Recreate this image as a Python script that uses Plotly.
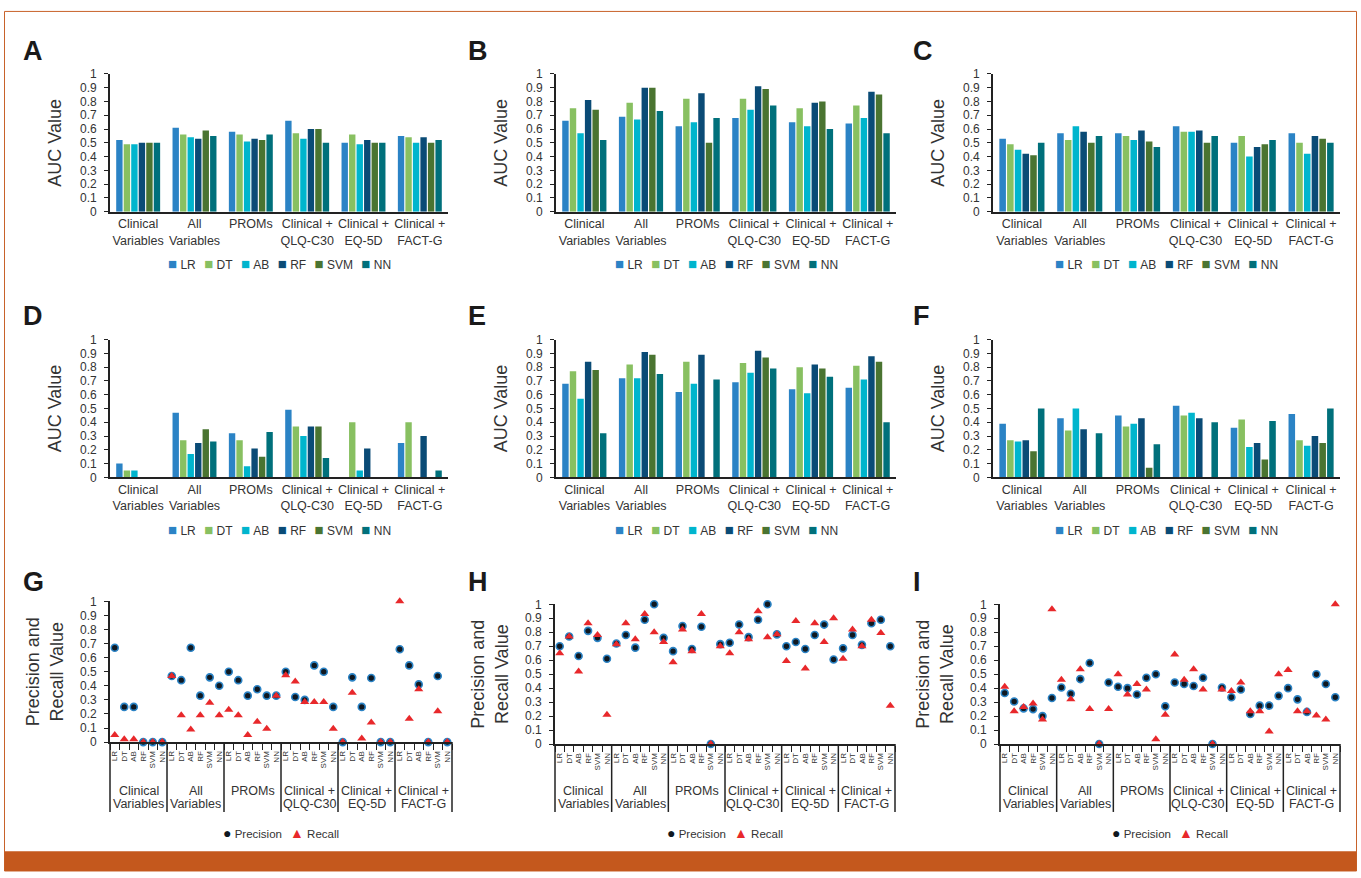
import numpy as np
import plotly.graph_objects as go

W, H = 1361, 878


def px(v):
    return v / W


def py(v):
    return 1 - v / H


FONT = "Liberation Sans, Arial, sans-serif"
TXT = "#333333"
AX = "#222222"

groups = ["Clinical<br>Variables", "All<br>Variables", "PROMs",
          "Clinical +<br>QLQ-C30", "Clinical +<br>EQ-5D", "Clinical +<br>FACT-G"]
models = ["LR", "DT", "AB", "RF", "SVM", "NN"]
model_colors = ["#2b83c5", "#88c061", "#00b5cd", "#0a4b76", "#4a7431", "#00707b"]
y_ticks = [0, 0.1, 0.2, 0.3, 0.4, 0.5, 0.6, 0.7, 0.8, 0.9, 1]
y_ticktext = ["0", "0.1", "0.2", "0.3", "0.4", "0.5", "0.6", "0.7", "0.8", "0.9", "1"]

# AUC values: rows = models (LR, DT, AB, RF, SVM, NN), columns = groups
auc_A = [[0.52, 0.61, 0.58, 0.66, 0.50, 0.55],
         [0.49, 0.56, 0.56, 0.57, 0.56, 0.54],
         [0.49, 0.54, 0.51, 0.53, 0.49, 0.50],
         [0.50, 0.53, 0.53, 0.60, 0.52, 0.54],
         [0.50, 0.59, 0.52, 0.60, 0.50, 0.50],
         [0.50, 0.55, 0.56, 0.50, 0.50, 0.52]]
auc_B = [[0.66, 0.69, 0.62, 0.68, 0.65, 0.64],
         [0.75, 0.79, 0.82, 0.82, 0.75, 0.77],
         [0.57, 0.67, 0.65, 0.74, 0.62, 0.68],
         [0.81, 0.90, 0.86, 0.91, 0.79, 0.87],
         [0.74, 0.90, 0.50, 0.89, 0.80, 0.85],
         [0.52, 0.73, 0.68, 0.77, 0.60, 0.57]]
auc_C = [[0.53, 0.57, 0.57, 0.62, 0.50, 0.57],
         [0.49, 0.52, 0.55, 0.58, 0.55, 0.50],
         [0.45, 0.62, 0.52, 0.58, 0.40, 0.42],
         [0.42, 0.58, 0.59, 0.59, 0.47, 0.55],
         [0.41, 0.50, 0.51, 0.50, 0.49, 0.53],
         [0.50, 0.55, 0.47, 0.55, 0.52, 0.50]]
auc_D = [[0.10, 0.47, 0.32, 0.49, 0.00, 0.25],
         [0.05, 0.27, 0.27, 0.37, 0.40, 0.40],
         [0.05, 0.17, 0.08, 0.30, 0.05, 0.00],
         [0.00, 0.25, 0.21, 0.37, 0.21, 0.30],
         [0.00, 0.35, 0.15, 0.37, 0.00, 0.00],
         [0.00, 0.26, 0.33, 0.14, 0.00, 0.05]]
auc_E = [[0.68, 0.72, 0.62, 0.69, 0.64, 0.65],
         [0.77, 0.82, 0.84, 0.83, 0.80, 0.81],
         [0.57, 0.72, 0.68, 0.76, 0.61, 0.71],
         [0.84, 0.91, 0.89, 0.92, 0.82, 0.88],
         [0.78, 0.89, 0.00, 0.87, 0.79, 0.84],
         [0.32, 0.75, 0.71, 0.79, 0.73, 0.40]]
auc_F = [[0.39, 0.43, 0.45, 0.52, 0.36, 0.46],
         [0.27, 0.34, 0.37, 0.45, 0.42, 0.27],
         [0.26, 0.50, 0.39, 0.47, 0.22, 0.23],
         [0.27, 0.35, 0.43, 0.43, 0.25, 0.30],
         [0.19, 0.00, 0.07, 0.00, 0.13, 0.25],
         [0.50, 0.32, 0.24, 0.40, 0.41, 0.50]]

# Precision / recall: rows = groups, columns = models
prec_G = [[0.67, 0.25, 0.25, 0.00, 0.00, 0.00],
          [0.47, 0.44, 0.67, 0.33, 0.46, 0.40],
          [0.50, 0.44, 0.33, 0.375, 0.33, 0.33],
          [0.50, 0.32, 0.30, 0.545, 0.50, 0.25],
          [0.00, 0.46, 0.25, 0.455, 0.00, 0.00],
          [0.66, 0.545, 0.41, 0.00, 0.47, 0.00]]
rec_G = [[0.05, 0.02, 0.02, 0.00, 0.00, 0.00],
         [0.47, 0.19, 0.09, 0.19, 0.28, 0.19],
         [0.23, 0.19, 0.05, 0.145, 0.095, 0.33],
         [0.475, 0.43, 0.285, 0.285, 0.285, 0.095],
         [0.00, 0.35, 0.025, 0.14, 0.00, 0.00],
         [1.00, 0.165, 0.375, 0.00, 0.22, 0.00]]
prec_H = [[0.70, 0.77, 0.63, 0.81, 0.76, 0.61],
          [0.72, 0.78, 0.69, 0.89, 1.00, 0.76],
          [0.665, 0.845, 0.68, 0.84, 0.00, 0.715],
          [0.725, 0.855, 0.765, 0.89, 1.00, 0.785],
          [0.70, 0.73, 0.68, 0.78, 0.855, 0.605],
          [0.685, 0.78, 0.71, 0.865, 0.89, 0.70]]
rec_H = [[0.65, 0.77, 0.52, 0.865, 0.78, 0.21],
         [0.715, 0.865, 0.75, 0.93, 0.80, 0.73],
         [0.585, 0.82, 0.665, 0.93, 0.00, 0.70],
         [0.65, 0.80, 0.75, 0.95, 0.765, 0.785],
         [0.595, 0.88, 0.54, 0.865, 0.73, 0.90],
         [0.61, 0.82, 0.70, 0.89, 0.795, 0.275]]
prec_I = [[0.365, 0.305, 0.255, 0.25, 0.20, 0.33],
          [0.405, 0.36, 0.465, 0.58, 0.00, 0.44],
          [0.41, 0.40, 0.355, 0.475, 0.50, 0.27],
          [0.44, 0.43, 0.415, 0.475, 0.00, 0.405],
          [0.335, 0.39, 0.215, 0.275, 0.275, 0.345],
          [0.40, 0.32, 0.23, 0.50, 0.43, 0.335]]
rec_I = [[0.41, 0.235, 0.265, 0.29, 0.175, 0.965],
         [0.46, 0.32, 0.535, 0.25, 0.00, 0.25],
         [0.50, 0.355, 0.43, 0.39, 0.035, 0.21],
         [0.64, 0.46, 0.535, 0.39, 0.00, 0.39],
         [0.38, 0.44, 0.235, 0.235, 0.09, 0.50],
         [0.53, 0.235, 0.235, 0.205, 0.175, 1.00]]

bar_panels = [("A", auc_A), ("B", auc_B), ("C", auc_C),
              ("D", auc_D), ("E", auc_E), ("F", auc_F)]
sc_panels = [("G", prec_G, rec_G), ("H", prec_H, rec_H), ("I", prec_I, rec_I)]

# layout geometry (pixels)
bar_cols = [(110, 448), (556, 896), (993, 1340)]
bar_rows = [(68, 208), (338, 478)]
bar_legend_y = [261, 531]
sc_cols = [(110, 452), (555, 895), (1000, 1340)]
sc_rows = [(604, 747), (607, 749), (607, 749)]
letter_x = [21, 466, 911]
letter_y = [27, 297, 567]

fig = go.Figure()
lay = {}
annotations = []
shapes = []


def axname(k, a):
    return a if k == 1 else f"{a}{k}"


def legend_text(items, symsize, sep):
    parts = []
    for sym, col, name in items:
        parts.append(f'<span style="color:{col};font-size:{symsize}px">{sym}</span>\u00a0{name}')
    return sep.join(parts)


for i, (letter, auc) in enumerate(bar_panels):
    r, c = divmod(i, 3)
    k = i + 1
    xa, ya = axname(k, "x"), axname(k, "y")
    for m, name in enumerate(models):
        fig.add_trace(go.Bar(x=groups, y=auc[m], name=name, xaxis=xa, yaxis=ya,
                             marker=dict(color=model_colors[m], line=dict(width=0)),
                             showlegend=False))
    x0, x1 = bar_cols[c]
    ytop, ybot = bar_rows[r]
    lay[axname(k, "xaxis")] = dict(
        domain=[px(x0), px(x1)], anchor=ya, type="category",
        showline=True, linecolor=AX, linewidth=1.6, ticks="", showgrid=False,
        tickfont=dict(size=12.5, color=TXT, family=FONT), ticklabelstandoff=0)
    lay[axname(k, "yaxis")] = dict(
        domain=[py(ybot), py(ytop)], anchor=xa, range=[0, 1],
        tickmode="array", tickvals=y_ticks, ticktext=y_ticktext,
        showline=True, linecolor=AX, linewidth=1.6, ticks="outside", ticklen=4,
        tickcolor=AX, tickwidth=1.2, showgrid=False, zeroline=False,
        tickfont=dict(size=12, color=TXT, family=FONT), ticklabelstandoff=5,
        title=dict(text="AUC Value", font=dict(size=18, color=TXT, family=FONT),
                   standoff=14))
    annotations.append(dict(
        x=px((x0 + x1) / 2), y=py(bar_legend_y[r]), xref="paper", yref="paper",
        xanchor="center", yanchor="middle", showarrow=False,
        text=legend_text([("\u25a0", model_colors[m], models[m]) for m in range(len(models))],
                         15, "\u2002\u2009"),
        font=dict(size=12, color=TXT, family=FONT)))
    annotations.append(dict(
        x=px(letter_x[c]), y=py(letter_y[r]), xref="paper", yref="paper",
        xanchor="left", yanchor="top", showarrow=False, text=f"<b>{letter}</b>",
        font=dict(size=27, color="#1a1a1a", family=FONT)))

n_g, n_m = len(groups), len(models)
xs = [g * n_m + m for g in range(n_g) for m in range(n_m)]
tick_labels = [models[m] for g in range(n_g) for m in range(n_m)]

for j, (letter, prec, rec) in enumerate(sc_panels):
    k = 7 + j
    xa, ya = axname(k, "x"), axname(k, "y")
    p_flat = [v for row in prec for v in row]
    r_flat = [v for row in rec for v in row]
    fig.add_trace(go.Scatter(
        x=xs, y=p_flat, mode="markers", name="Precision", xaxis=xa, yaxis=ya,
        cliponaxis=False, showlegend=False,
        marker=dict(symbol="circle", size=7, color="#101820",
                    line=dict(color="#2b83c5", width=1.6))))
    fig.add_trace(go.Scatter(
        x=xs, y=r_flat, mode="markers", name="Recall", xaxis=xa, yaxis=ya,
        cliponaxis=False, showlegend=False,
        marker=dict(symbol="triangle-up", size=8, color="#e8282b", line=dict(width=0))))
    x0, x1 = sc_cols[j]
    ytop, ybot = sc_rows[j]
    lay[axname(k, "xaxis")] = dict(
        domain=[px(x0), px(x1)], anchor=ya, range=[-0.5, n_g * n_m - 0.5],
        tickmode="array", tickvals=xs, ticktext=tick_labels, tickangle=-90,
        tickfont=dict(size=8, color=TXT, family=FONT), ticks="",
        showline=True, linecolor=AX, linewidth=1.6, showgrid=False, zeroline=False,
        ticklabelstandoff=4,
        minor=dict(tickmode="array", tickvals=[v - 0.5 for v in range(n_g * n_m + 1)],
                   ticks="outside", ticklen=6, tickcolor=AX, tickwidth=1.2, showgrid=False))
    lay[axname(k, "yaxis")] = dict(
        domain=[py(ybot), py(ytop)], anchor=xa, range=[0, 1],
        tickmode="array", tickvals=y_ticks, ticktext=y_ticktext,
        showline=True, linecolor=AX, linewidth=1.6, ticks="outside", ticklen=4,
        tickcolor=AX, tickwidth=1.2, showgrid=False, zeroline=False,
        tickfont=dict(size=12, color=TXT, family=FONT), ticklabelstandoff=5,
        title=dict(text="Precision and<br>Recall Value",
                   font=dict(size=18, color=TXT, family=FONT), standoff=12))
    # group dividers and labels
    for g in range(n_g + 1):
        xb = x0 + (x1 - x0) * g / n_g
        shapes.append(dict(type="line", xref="paper", yref="paper",
                           x0=px(xb), x1=px(xb), y0=py(ybot), y1=py(818),
                           line=dict(color=AX, width=1.5)))
    for g in range(n_g):
        for li, line_txt in enumerate(groups[g].split("<br>")):
            annotations.append(dict(
                x=g * n_m + (n_m - 1) / 2, y=py(797 + 12.8 * li), xref=xa, yref="paper",
                xanchor="center", yanchor="middle", showarrow=False, text=line_txt,
                font=dict(size=12.5, color=TXT, family=FONT)))
    annotations.append(dict(
        x=px((x0 + x1) / 2), y=py(839), xref="paper", yref="paper",
        xanchor="center", yanchor="middle", showarrow=False,
        text=legend_text([("\u25cf", "#101820", "Precision"), ("\u25b2", "#e8282b", "Recall")],
                         14, "\u2002\u2009"),
        font=dict(size=11.5, color=TXT, family=FONT)))
    annotations.append(dict(
        x=px(letter_x[j]), y=py(letter_y[2]), xref="paper", yref="paper",
        xanchor="left", yanchor="top", showarrow=False, text=f"<b>{letter}</b>",
        font=dict(size=27, color="#1a1a1a", family=FONT)))

# page frame
shapes.append(dict(type="rect", xref="paper", yref="paper",
                   x0=px(4.5), x1=px(1356.5), y0=py(878), y1=py(4.5),
                   line=dict(color="#c8622a", width=1), fillcolor="rgba(0,0,0,0)"))
shapes.append(dict(type="rect", xref="paper", yref="paper",
                   x0=px(4.5), x1=px(1356.5), y0=py(878), y1=py(858),
                   line=dict(width=0), fillcolor="#c4581d"))

fig.update_layout(
    width=W, height=H, autosize=False,
    margin=dict(l=0, r=0, t=0, b=0),
    paper_bgcolor="white", plot_bgcolor="white",
    font=dict(family=FONT, color=TXT),
    barmode="group", bargap=0.2, bargroupgap=0.15,
    showlegend=False,
    annotations=annotations, shapes=shapes,
    **lay)

fig.write_html("out.html", config={"displayModeBar": False},
               post_script="document.body.style.margin='0px';document.body.style.overflow='hidden';")
